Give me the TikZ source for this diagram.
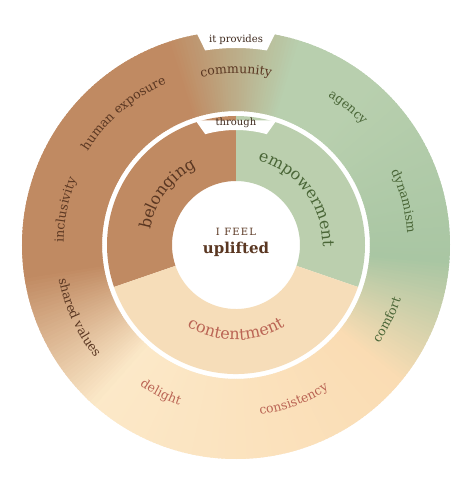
\documentclass[tikz,border=0pt]{standalone}
\usepackage{fontspec}
\setmainfont{DejaVu Serif}
\usetikzlibrary{decorations.text}

\definecolor{ringbrown}{HTML}{C08A62}
\definecolor{ringgreen}{HTML}{B8CFAE}
\definecolor{ringgreendk}{HTML}{A9C6A3}
\definecolor{ringpeach}{HTML}{FADCB3}
\definecolor{ringcream}{HTML}{FCE9C9}
\definecolor{midbrown}{HTML}{C08A62}
\definecolor{midgreen}{HTML}{BBCFAE}
\definecolor{midpeach}{HTML}{F6DDB9}
\definecolor{txtbrown}{HTML}{5A3722}
\definecolor{txtgreen}{HTML}{4A6637}
\definecolor{txtred}{HTML}{BA6454}
\definecolor{txtdark}{HTML}{3F2A1E}

\newcommand\outerfont{\fontsize{12.5}{14}\selectfont}
\newcommand\midfont{\fontsize{16}{18}\selectfont}

% text reading clockwise (tops outward) and counter-clockwise (tops inward)
\newcommand\cwtext[4]{%
  \path[decorate,decoration={text along path,text align=center,text={|#3|#4}}]
    ({#1+60}:#2) arc[start angle={#1+60},end angle={#1-60},radius=#2];}
\newcommand\ccwtext[4]{%
  \path[decorate,decoration={text along path,text align=center,text={|#3|#4}}]
    ({#1-60}:#2) arc[start angle={#1-60},end angle={#1+60},radius=#2];}

\tikzset{
  centertext/.style={anchor=base,text=txtbrown},
  tabtext/.style={anchor=base,text=txtdark,font=\fontsize{10}{11}\selectfont}
}

\begin{document}
\begin{tikzpicture}[x=1pt,y=1pt]

    \fill[white] (-236,-233) rectangle (230,245);
    \useasboundingbox (-236,-233) rectangle (230,245);

    % outer ring, colour blended by angle
    \foreach \sa/\ea/\ca/\cb in {-135/-40/ringcream/ringpeach, -40/-5/ringpeach/ringgreendk,
        -5/50/ringgreendk/ringgreen, 50/72/ringgreen/ringgreen, 72/108/ringgreen/ringbrown,
        108/188/ringbrown/ringbrown, 188/228/ringbrown/ringcream}{
      \pgfmathtruncatemacro\n{\ea-\sa-1}
      \foreach \i in {0,...,\n}{
        \pgfmathsetmacro\w{100*\i/(\ea-\sa)}
        \pgfmathsetmacro\aa{\sa+\i}
        \fill[\cb!\w!\ca] (\aa:134) -- (\aa:214) arc[start angle=\aa,end angle=\aa+1.6,radius=214]
          -- ({\aa+1.6}:134) arc[start angle=\aa+1.6,end angle=\aa,radius=134] -- cycle;
      }
    }

    % inner ring
    \fill[midbrown] (90:64) -- (90:129) arc[start angle=90,end angle=199,radius=129]
      -- (199:64) arc[start angle=199,end angle=90,radius=64] -- cycle;
    \fill[midgreen] (-19:64) -- (-19:129) arc[start angle=-19,end angle=90,radius=129]
      -- (90:64) arc[start angle=90,end angle=-19,radius=64] -- cycle;
    \fill[midpeach] (199:64) -- (199:129) arc[start angle=199,end angle=341,radius=129]
      -- (341:64) arc[start angle=341,end angle=199,radius=64] -- cycle;

    % tabs
    \fill[white] (101:222) -- (99:197) arc[start angle=99,end angle=81,radius=197] -- (79:222) -- cycle;
    \fill[white] (108:131) -- (105.5:115) arc[start angle=105.5,end angle=74.5,radius=115] -- (72:131) -- cycle;

    \node[tabtext] (provides) at (0,202) {it provides};
    \node[tabtext] (through) at (0,119) {through};

    % outer labels
    \cwtext{90}{171.5}{\outerfont\color{txtbrown}}{community}
    \cwtext{50.9}{174.5}{\outerfont\color{txtgreen}}{agency}
    \cwtext{14.7}{171.5}{\outerfont\color{txtgreen}}{dynamism}
    \cwtext{168.3}{172.5}{\outerfont\color{txtbrown}}{inclusivity}
    \cwtext{130.5}{175.5}{\outerfont\color{txtbrown}}{human exposure}
    \ccwtext{-26.3}{173.5}{\outerfont\color{txtgreen}}{comfort}
    \ccwtext{-69.6}{171.5}{\outerfont\color{txtred}}{consistency}
    \ccwtext{-117}{170}{\outerfont\color{txtred}}{delight}
    \ccwtext{-155.2}{180.5}{\outerfont\color{txtbrown}}{shared values}

    % inner labels
    \cwtext{143.5}{87}{\midfont\color{txtbrown}}{belonging}
    \cwtext{37}{87}{\midfont\color{txtgreen}}{empowerment}
    \ccwtext{270}{95}{\midfont\color{txtred}}{contentment}

    \node[centertext,font=\fontsize{10}{11}\selectfont\addfontfeature{LetterSpace=12}] (feel) at (0,9) {I FEEL};
    \node[centertext,font=\bfseries\fontsize{15}{17}\selectfont] (uplifted) at (0,-9) {uplifted};

\end{tikzpicture}
\end{document}
